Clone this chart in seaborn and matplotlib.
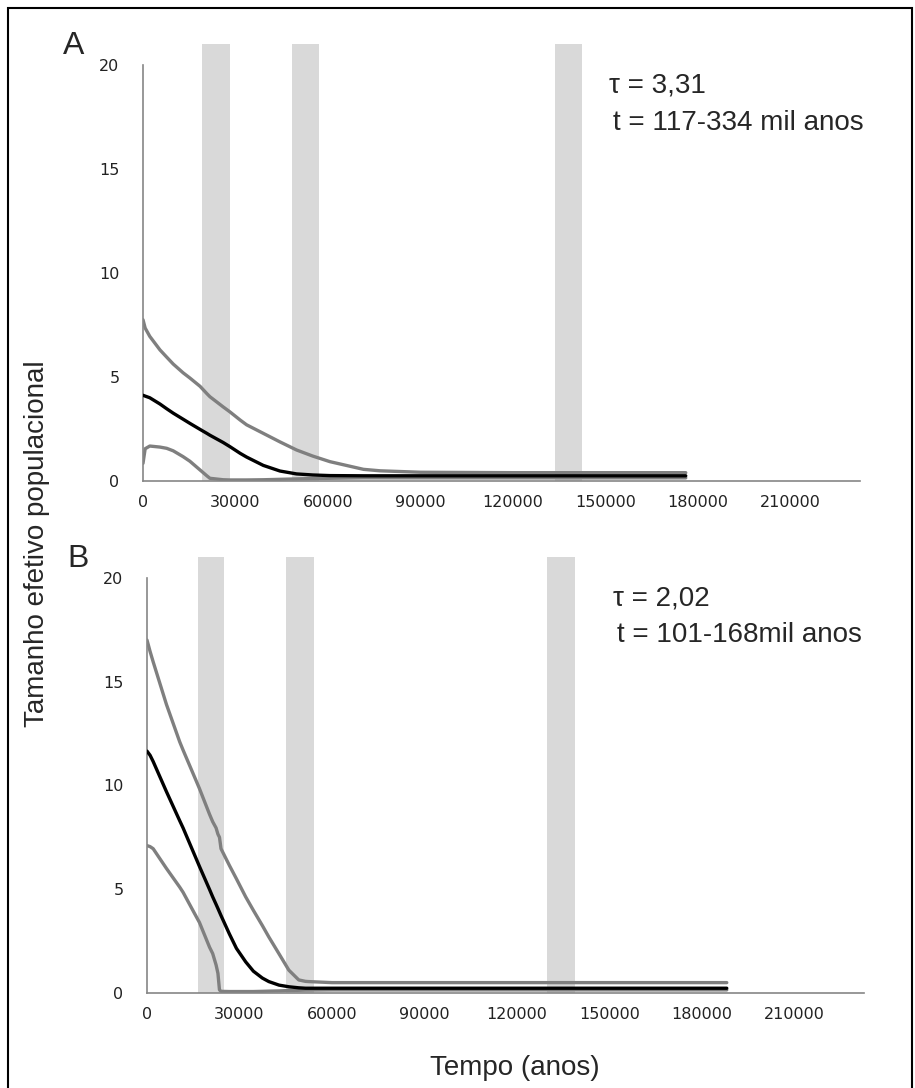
import matplotlib
matplotlib.use("Agg")
import matplotlib.pyplot as plt
from matplotlib.patches import Rectangle
import seaborn as sns
import pandas as pd

sns.set_theme(style="white")
plt.rcParams["font.family"] = ["DejaVu Sans"]

# Panel A: effective population size through time (upper CI, median, lower CI)
years_a = [0, 700, 2200, 5500, 7700, 9800, 13000, 15200, 18500, 20700, 21700,
           26000, 28200, 31500, 33600, 39000, 44400, 49800, 55000, 60600, 71500,
           76900, 90000, 120000, 176000]
upper_a = [7.75, 7.35, 6.95, 6.3, 5.95, 5.62, 5.2, 4.95, 4.55, 4.2, 4.05,
           3.56, 3.32, 2.93, 2.7, 2.29, 1.88, 1.49, 1.2, 0.93, 0.56,
           0.49, 0.42, 0.4, 0.4]
median_a = [4.12, 4.08, 4.0, 3.7, 3.47, 3.26, 2.97, 2.77, 2.48, 2.29, 2.2,
            1.85, 1.65, 1.33, 1.15, 0.75, 0.48, 0.34, 0.29, 0.26, 0.25,
            0.25, 0.25, 0.25, 0.25]
lower_a = [0.85, 1.55, 1.68, 1.63, 1.57, 1.45, 1.17, 0.95, 0.53, 0.25, 0.13,
           0.06, 0.05, 0.05, 0.05, 0.06, 0.08, 0.1, 0.12, 0.13, 0.15,
           0.15, 0.15, 0.15, 0.15]

# Panel B
years_b = [0, 1000, 2000, 6300, 10600, 11700, 16000, 17000, 20300, 21300, 22400,
           23000, 23500, 24000, 26700, 29000, 32000, 34500, 37400, 39500, 42800,
           46000, 49200, 51400, 52400, 60000, 100000, 188000]
upper_b = [17.0, 16.45, 15.95, 13.9, 12.1, 11.7, 10.2, 9.85, 8.6, 8.25, 7.95,
           7.65, 7.5, 6.95, 6.15, 5.5, 4.63, 3.98, 3.25, 2.7, 1.89,
           1.1, 0.63, 0.56, 0.55, 0.5, 0.5, 0.5]
median_b = [11.65, 11.45, 11.15, 9.7, 8.3, 7.95, 6.45, 6.1, 4.98, 4.63, 4.27,
            4.07, 3.9, 3.73, 2.85, 2.15, 1.5, 1.05, 0.72, 0.55, 0.38,
            0.3, 0.25, 0.23, 0.23, 0.23, 0.23, 0.23]
lower_b = [7.1, 7.05, 6.95, 6.0, 5.1, 4.85, 3.67, 3.4, 2.2, 1.9, 1.35,
           0.95, 0.15, 0.08, 0.07, 0.07, 0.07, 0.07, 0.08, 0.09, 0.1,
           0.12, 0.13, 0.14, 0.14, 0.15, 0.15, 0.15]

# Shaded climatic periods (start, end) in years
periods_a = [(19100, 28200), (48300, 57100), (133600, 142400)]
periods_b = [(16400, 25100), (45000, 54300), (129600, 138900)]

x_ticks = [0, 30000, 60000, 90000, 120000, 150000, 180000, 210000]
y_ticks = [0, 5, 10, 15, 20]

panels = [
    dict(label="A", years=years_a, upper=upper_a, median=median_a, lower=lower_a,
         periods=periods_a, tau="τ = 3,31", t="t = 117-334 mil anos",
         rect=[143 / 915, 1 - 481 / 1088, 717 / 915, 437 / 1088]),
    dict(label="B", years=years_b, upper=upper_b, median=median_b, lower=lower_b,
         periods=periods_b, tau="τ = 2,02", t="t = 101-168mil anos",
         rect=[147 / 915, 1 - 993 / 1088, 717 / 915, 436 / 1088]),
]

fig = plt.figure(figsize=(9.15, 10.88), dpi=100)
fig.patch.set_facecolor("white")

spine_col = "#868686"
for p in panels:
    ax = fig.add_axes(p["rect"])
    for (x0, x1) in p["periods"]:
        ax.axvspan(x0, x1, ymin=0, ymax=1, color="#d9d9d9", lw=0, zorder=0)
    df = pd.DataFrame({"Tempo": p["years"], "upper": p["upper"],
                       "median": p["median"], "lower": p["lower"]})
    sns.lineplot(data=df, x="Tempo", y="lower", ax=ax, color="#7f7f7f", lw=2.4, zorder=2)
    sns.lineplot(data=df, x="Tempo", y="upper", ax=ax, color="#7f7f7f", lw=2.4, zorder=2)
    sns.lineplot(data=df, x="Tempo", y="median", ax=ax, color="black", lw=2.4, zorder=3)
    ax.set_xlim(0, 232500)
    ax.set_ylim(0, 21)
    ax.set_xticks(x_ticks)
    ax.set_xticklabels([str(v) for v in x_ticks])
    ax.set_yticks(y_ticks)
    ax.set_xlabel("")
    ax.set_ylabel("")
    for s in ["top", "right"]:
        ax.spines[s].set_visible(False)
    for s in ["left", "bottom"]:
        ax.spines[s].set_color(spine_col)
        ax.spines[s].set_linewidth(1.2)
    ax.spines["left"].set_bounds(0, 20)
    ax.tick_params(axis="both", direction="out", length=5, width=1.2,
                   color=spine_col, labelsize=11.5, labelcolor="#222222", pad=5)
    ax.tick_params(axis="y", pad=12)
    ax.set_facecolor("none")
    ax.text(0.650, 0.905, p["tau"], transform=ax.transAxes, fontsize=20,
            family="Liberation Sans", va="center")
    ax.text(0.655, 0.82, p["t"], transform=ax.transAxes, fontsize=20,
            family="Liberation Sans", va="center")
    fig.text((p["rect"][0] * 915 - 80) / 915,
             p["rect"][1] + p["rect"][3] - 0.002, p["label"],
             fontsize=23, family="Liberation Sans", va="center")

fig.text(37 / 915, 0.5, "Tamanho efetivo populacional", rotation=90,
         fontsize=20, family="Liberation Sans", ha="center", va="center")
fig.text(515 / 915, 1 - 1068 / 1088, "Tempo (anos)", fontsize=20,
         family="Liberation Sans", ha="center", va="center")

# outer frame
fig.patches.append(Rectangle((8 / 915, -0.02), 904 / 915, 1 - 8 / 1088 + 0.02,
                             transform=fig.transFigure, fill=False,
                             edgecolor="black", lw=1.5))

fig.savefig("out.png", dpi=100)
